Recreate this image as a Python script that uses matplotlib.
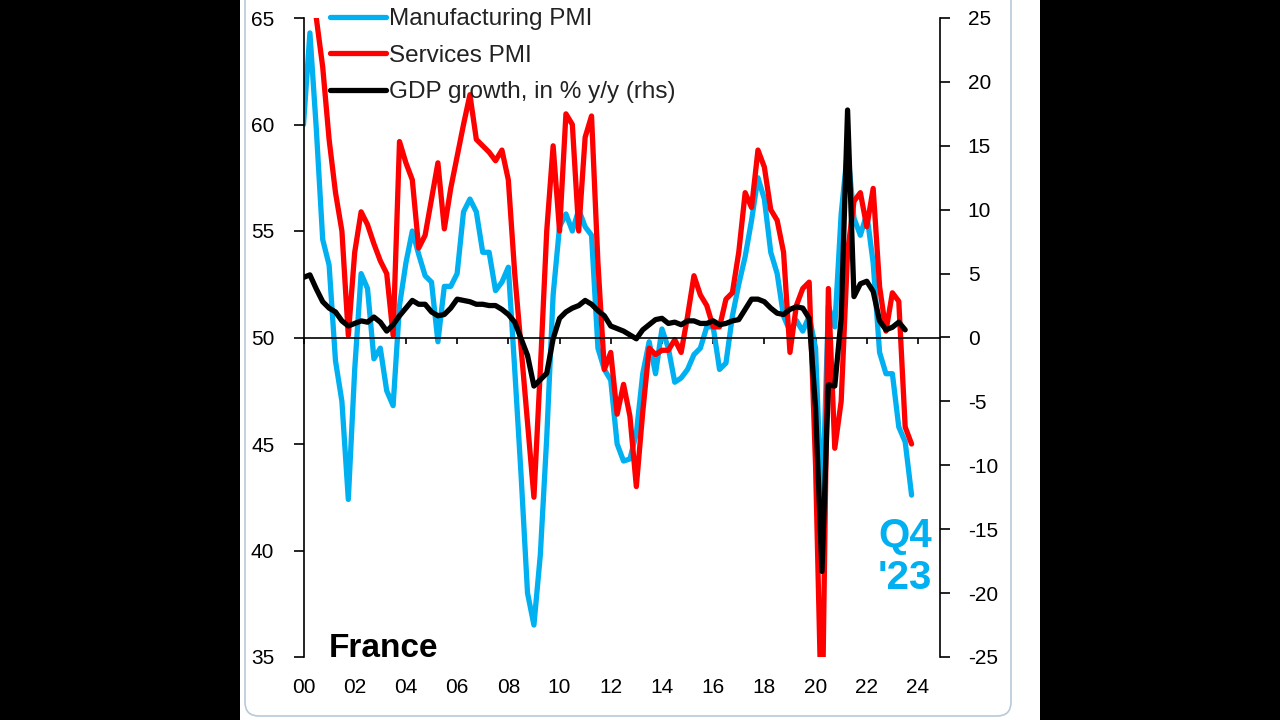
import numpy as np
import matplotlib
matplotlib.use('Agg')
import matplotlib.pyplot as plt
from matplotlib.patches import Rectangle, FancyBboxPatch
from matplotlib.transforms import IdentityTransform

plt.rcParams['font.family'] = ['Liberation Sans', 'DejaVu Sans']
plt.rcParams['axes.unicode_minus'] = False

# === Quarterly data, 2000Q1 .. 2023Q4 ===
quarter_index = np.arange(96)
quarter_pos = 2000 + quarter_index / 4.0

manufacturing_pmi = [
    60.0, 64.3, 59.8, 54.6, 53.4, 48.9, 47.0, 42.4,   # 2000-01
    48.5, 53.0, 52.3, 49.0, 49.5, 47.5, 46.8, 51.5,   # 2002-03
    53.5, 55.0, 53.9, 52.9, 52.6, 49.8, 52.4, 52.4,   # 2004-05
    53.0, 55.9, 56.5, 55.9, 54.0, 54.0, 52.2, 52.6,   # 2006-07
    53.3, 48.5, 43.5, 38.0, 36.5, 39.8, 45.3, 52.0,   # 2008-09
    55.2, 55.8, 55.0, 56.0, 55.2, 54.8, 49.5, 48.5,   # 2010-11
    48.0, 45.0, 44.2, 44.3, 45.5, 48.3, 49.8, 48.3,   # 2012-13
    50.4, 49.5, 47.9, 48.1, 48.5, 49.2, 49.5, 50.5,   # 2014-15
    50.5, 48.5, 48.8, 51.0, 52.5, 53.8, 55.5, 57.5,   # 2016-17
    56.5, 54.0, 53.0, 51.0, 50.3, 50.8, 50.3, 51.0,   # 2018-19
    49.5, 41.5, 51.5, 50.5, 55.8, 58.8, 55.6, 54.8,   # 2020-21
    55.8, 53.5, 49.3, 48.3, 48.3, 45.8, 45.1, 42.6,   # 2022-23
]

services_pmi = [
    66.5, 66.8, 65.0, 62.7, 59.3, 56.8, 55.0, 50.1,
    54.0, 55.9, 55.3, 54.4, 53.6, 53.0, 50.1, 59.2,
    58.2, 57.4, 54.2, 54.8, 56.5, 58.2, 55.1, 57.0,
    58.5, 60.0, 61.4, 59.3, 59.0, 58.7, 58.3, 58.8,
    57.4, 53.0, 49.5, 46.0, 42.5, 48.5, 55.0, 59.0,
    55.0, 60.5, 60.0, 55.0, 59.4, 60.4, 53.5, 48.5,
    49.3, 46.4, 47.8, 46.3, 43.0, 46.5, 49.5, 49.2,
    49.4, 49.4, 49.9, 49.3, 51.0, 52.9, 52.0, 51.5,
    50.5, 50.5, 51.8, 52.1, 54.0, 56.8, 56.1, 58.8,
    58.0, 56.0, 55.5, 54.0, 49.3, 51.5, 52.3, 52.6,
    44.0, 31.0, 52.3, 44.8, 47.0, 54.0, 56.4, 56.8,
    55.2, 57.0, 52.4, 50.3, 52.1, 51.7, 45.8, 45.0,
]

# GDP y/y in %, last quarter not yet published
gdp_growth = [
    4.7, 4.9, 3.8, 2.8, 2.3, 2.0, 1.3, 0.9,
    1.1, 1.3, 1.2, 1.6, 1.2, 0.5, 1.0, 1.7,
    2.3, 2.9, 2.6, 2.6, 2.0, 1.7, 1.8, 2.3,
    3.0, 2.9, 2.8, 2.6, 2.6, 2.5, 2.5, 2.2,
    1.8, 1.2, -0.1, -1.4, -3.8, -3.3, -2.8, -0.1,
    1.5, 2.0, 2.3, 2.5, 2.9, 2.6, 2.1, 1.7,
    0.9, 0.7, 0.5, 0.2, -0.1, 0.6, 1.0, 1.4,
    1.5, 1.1, 1.2, 1.0, 1.3, 1.3, 1.1, 1.1,
    1.3, 1.0, 1.1, 1.3, 1.4, 2.2, 3.0, 3.0,
    2.8, 2.3, 1.9, 1.8, 2.2, 2.4, 2.3, 1.5,
    -5.5, -18.3, -3.7, -3.8, 1.5, 17.8, 3.2, 4.2,
    4.4, 3.6, 1.3, 0.6, 0.8, 1.2, 0.6, np.nan,
]

year_ticks = list(range(2000, 2025, 2))
year_labels = [f"{y % 100:02d}" for y in year_ticks]

BLUE = '#00B0F0'
RED = '#FF0000'

# === Figure with black letterbox and white panel ===
fig = plt.figure(figsize=(12.8, 7.2), dpi=100, facecolor='black')
fig.patches.append(Rectangle((240 / 1280, 0), 800 / 1280, 1, transform=fig.transFigure,
                             facecolor='white', edgecolor='none', zorder=-3))
fig.patches.append(FancyBboxPatch((245, 4), 766, 800, boxstyle='round,pad=0,rounding_size=14',
                                  transform=IdentityTransform(), facecolor='none',
                                  edgecolor='#b9c9d9', linewidth=1.2, zorder=-2))

ax = fig.add_axes([303.5 / 1280, (720 - 657) / 720, (940 - 303.5) / 1280, (657 - 18) / 720])
ax.patch.set_alpha(0)
ax2 = ax.twinx()

lw = 3.8
l1, = ax.plot(quarter_pos, manufacturing_pmi, color=BLUE, lw=lw,
              solid_joinstyle='round', solid_capstyle='round', label='Manufacturing PMI')
l2, = ax.plot(quarter_pos, services_pmi, color=RED, lw=lw,
              solid_joinstyle='round', solid_capstyle='round', label='Services PMI')
l3, = ax2.plot(quarter_pos, gdp_growth, color='black', lw=lw,
               solid_joinstyle='round', solid_capstyle='round', label='GDP growth, in % y/y (rhs)')

ax.set_xlim(2000, 2024.86)
ax.set_ylim(35, 65)
ax2.set_ylim(-25, 25)
ax.set_yticks(range(35, 66, 5))
ax2.set_yticks(range(-25, 26, 5))

# axes styling
for s in ['top', 'right']:
    ax.spines[s].set_visible(False)
for s in ['top', 'left', 'bottom']:
    ax2.spines[s].set_visible(False)
ax.spines['left'].set_linewidth(1.2)
ax2.spines['right'].set_linewidth(1.2)
ax.spines['bottom'].set_position(('data', 50))
ax.spines['bottom'].set_linewidth(1.2)

ax.tick_params(axis='y', direction='out', length=7, width=1.2, labelsize=15, pad=14)
ax2.tick_params(axis='y', direction='out', length=7, width=1.2, labelsize=15, pad=13)
ax.set_xticks(year_ticks)
ax.tick_params(axis='x', direction='out', length=4, width=1.2, labelbottom=False)

secx = ax.secondary_xaxis('bottom')
secx.set_xticks(year_ticks, labels=year_labels)
secx.spines['bottom'].set_visible(False)
secx.tick_params(axis='x', length=0, labelsize=15, pad=15)

# annotations
ax.text(2001.0, 35.0, 'France', fontsize=24, fontweight='bold', va='baseline', ha='left')
ax.text(2023.5, 39.7, "Q4\n'23", fontsize=29, fontweight='bold', color=BLUE,
        ha='center', va='center', linespacing=1.15)

leg = ax2.legend(handles=[l1, l2, l3], loc='upper left', bbox_to_anchor=(330 / 1280, 1 - 8 / 720),
                 bbox_transform=fig.transFigure, frameon=False, fontsize=17.5,
                 handlelength=2.3, handletextpad=0.12, labelspacing=0.6, borderpad=0,
                 borderaxespad=0)
for t in leg.get_texts():
    t.set_color('#222222')

plt.savefig('out.png', dpi=100, facecolor=fig.get_facecolor())
